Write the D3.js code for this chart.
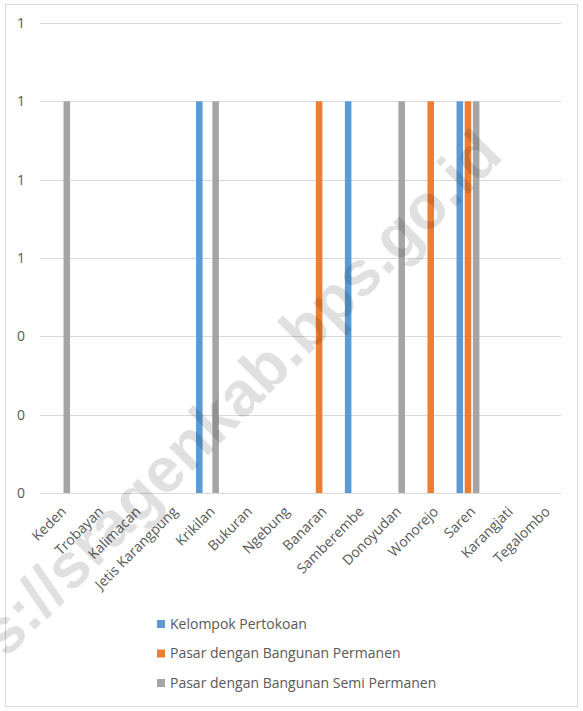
<!DOCTYPE html>
<html><head><meta charset="utf-8">
<script src="https://cdn.jsdelivr.net/npm/d3@7"></script>
<style>body{margin:0;background:#fff}</style>
</head><body>
<svg id="c" width="583" height="711"></svg>
<script>
const categories = ["Keden","Trobayan","Kalimacan","Jetis Karangpung","Krikilan","Bukuran","Ngebung","Banaran","Samberembe","Donoyudan","Wonorejo","Saren","Karangjati","Tegalombo"];
const seriesNames = ["Kelompok Pertokoan","Pasar dengan Bangunan Permanen","Pasar dengan Bangunan Semi Permanen"];
const kelompokPertokoan = [0,0,0,0,1,0,0,0,1,0,0,1,0,0];
const pasarPermanen     = [0,0,0,0,0,0,0,1,0,0,1,1,0,0];
const pasarSemiPermanen = [1,0,0,0,1,0,0,0,0,1,0,1,0,0];
const yTicks = [0,0.2,0.4,0.6,0.8,1.0,1.2];
const colors = ["#5b9bd5","#ed7d31","#a5a5a5"];
const watermark = "https://sragenkab.bps.go.id";

const values = [kelompokPertokoan, pasarPermanen, pasarSemiPermanen];
const svg = d3.select("#c");
const font = "'Open Sans', sans-serif";
const fs = 14;

svg.append("rect").attr("x",5.5).attr("y",4.5).attr("width",572).attr("height",702)
  .attr("fill","#fff").attr("stroke","#d9d9d9");

const x0 = d3.scaleBand().domain(categories).range([40,561]).padding(0);
const y = d3.scaleLinear().domain([0,1.2]).range([493,23]);
const groupW = x0.bandwidth()*0.615;
const x1 = d3.scaleBand().domain(d3.range(3)).range([-groupW/2, groupW/2]).paddingInner(0.2);

// gridlines
svg.append("g").selectAll("line").data(yTicks).join("line")
  .attr("x1",40).attr("x2",561).attr("y1",d=>Math.round(y(d))+0.5).attr("y2",d=>Math.round(y(d))+0.5)
  .attr("stroke","#d9d9d9").attr("stroke-width",1);

// y labels
svg.append("g").selectAll("text").data(yTicks).join("text")
  .attr("x",25).attr("y",d=>y(d)).attr("dy","0.35em").attr("text-anchor","end")
  .attr("font-family",font).attr("font-size",fs).attr("fill","#595959")
  .text(d=>d3.format(".0f")(d));

// bars
values.forEach((vals,si)=>{
  svg.append("g").selectAll("rect").data(vals).join("rect")
    .attr("x",(d,i)=>x0(categories[i])+x0.bandwidth()/2+x1(si))
    .attr("width",x1.bandwidth())
    .attr("y",d=>y(d)).attr("height",d=>y(0)-y(d))
    .attr("fill",colors[si]);
});

// x labels
svg.append("g").selectAll("text").data(categories).join("text")
  .attr("transform",d=>`translate(${x0(d)+x0.bandwidth()/2+5},${509}) rotate(-45)`)
  .attr("text-anchor","end").attr("dy","0.35em")
  .attr("font-family",font).attr("font-size",fs).attr("fill","#595959")
  .text(d=>d);

// legend
const lg = svg.append("g");
seriesNames.forEach((s,i)=>{
  const cy = 624 + i*29.5;
  lg.append("rect").attr("x",157).attr("y",cy-4).attr("width",8).attr("height",8).attr("fill",colors[i]);
  lg.append("text").attr("x",170).attr("y",cy).attr("dy","0.35em")
    .attr("font-family",font).attr("font-size",fs).attr("fill","#595959").text(s);
});

// watermark: fit so the colon and the dot after "kab" land where they are in the reference
const wm = svg.append("text").attr("font-family","'Liberation Sans', Arial, sans-serif")
  .attr("font-weight","bold").attr("font-size",100).attr("fill","#000").attr("fill-opacity",0.12)
  .text(watermark);
const node = wm.node();
const iColon = watermark.indexOf(":");
const iDot = watermark.indexOf(".");
const ec = node.getExtentOfChar(iColon), ed = node.getExtentOfChar(iDot);
const P1 = [ec.x + ec.width/2, -26], P2 = [ed.x + ed.width/2, -7];
const T1 = [26.5,615], T2 = [297,360];
const v = [P2[0]-P1[0], P2[1]-P1[1]], w = [T2[0]-T1[0], T2[1]-T1[1]];
const sc = Math.hypot(...w)/Math.hypot(...v);
const ang = Math.atan2(w[1],w[0]) - Math.atan2(v[1],v[0]);
const rp = [sc*(P1[0]*Math.cos(ang) - P1[1]*Math.sin(ang)), sc*(P1[0]*Math.sin(ang) + P1[1]*Math.cos(ang))];
wm.attr("font-size", 100*sc)
  .attr("transform", `translate(${T1[0]-rp[0]},${T1[1]-rp[1]}) rotate(${ang*180/Math.PI})`);
</script>
</body></html>
